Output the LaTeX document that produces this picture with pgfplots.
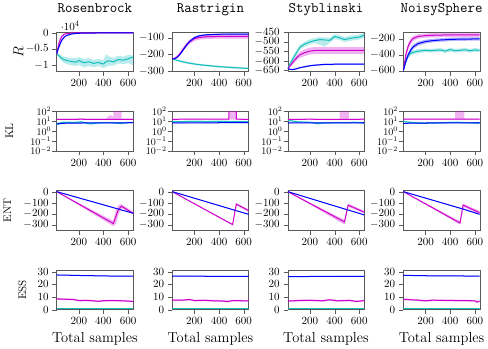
\documentclass[11pt,border=0pt]{standalone}
\usepackage{fontspec}
\usepackage{pgfplots}
\pgfplotsset{compat=1.18}
\usepackage{pgfplotstable}
\usepgfplotslibrary{groupplots,fillbetween}

\definecolor{cmag}{RGB}{205,0,205}
\definecolor{cblu}{RGB}{0,0,255}
\definecolor{ccya}{RGB}{20,190,190}

% mean line with shaded band: table, mean, low, high, colour
\newcommand{\band}[5]{%
  \addplot[draw=none, name path=U, forget plot] table[x=x,y=#4]{#1};
  \addplot[draw=none, name path=L, forget plot] table[x=x,y=#3]{#1};
  \addplot[fill=#5, fill opacity=0.3, draw=none, forget plot] fill between[of=U and L];
  \addplot[#5, line width=1pt] table[x=x,y=#2]{#1};
}

% ---------- R ----------
\pgfplotstableread{
x m ml mh b bl bh c cl ch
20 -6500 -6600 -6400 -6500 -6600 -6400 -6500 -6600 -6400
40 -3000 -3500 -2500 -4200 -4600 -3800 -7200 -7900 -6600
60 -1200 -1600 -800 -2400 -2800 -2000 -7900 -8800 -7100
80 -500 -750 -300 -1400 -1700 -1150 -8300 -9300 -7400
100 -250 -400 -130 -850 -1050 -680 -8600 -9700 -7600
140 -100 -170 -50 -400 -520 -300 -8900 -10100 -7800
180 -60 -110 -30 -220 -300 -150 -9100 -10300 -7900
200 -50 -90 -20 -170 -240 -110 -8600 -9900 -7500
240 -40 -70 -20 -120 -170 -80 -9300 -10700 -8100
280 -35 -60 -15 -100 -140 -70 -9000 -10300 -7900
320 -30 -55 -15 -85 -120 -60 -9500 -10700 -8400
360 -30 -55 -15 -75 -105 -50 -9200 -10300 -8100
400 -30 -55 -15 -70 -95 -50 -9700 -10900 -8500
420 -30 -55 -15 -68 -92 -48 -9000 -10600 -6600
440 -30 -55 -15 -65 -90 -45 -8700 -10200 -7300
480 -30 -55 -15 -60 -85 -40 -9000 -10200 -7800
520 -30 -55 -15 -60 -85 -40 -8300 -9500 -7100
560 -30 -55 -15 -55 -80 -35 -8500 -9700 -7400
600 -30 -55 -15 -55 -80 -35 -8100 -9400 -6900
640 -30 -55 -15 -55 -80 -35 -7500 -10000 -7000
}\RosR
\pgfplotstableread{
x m ml mh b bl bh c cl ch
20 -228 -231 -225 -228 -231 -225 -228 -231 -225
40 -224 -229 -219 -226 -229 -223 -232 -236 -228
60 -214 -221 -207 -218 -222 -214 -236 -241 -231
80 -198 -207 -189 -203 -208 -198 -240 -246 -234
100 -178 -189 -167 -183 -189 -177 -244 -250 -238
120 -158 -170 -146 -161 -167 -155 -247 -253 -241
140 -140 -153 -127 -141 -147 -135 -250 -256 -244
160 -125 -138 -112 -123 -129 -117 -253 -259 -247
200 -106 -119 -95 -99 -104 -94 -258 -264 -252
240 -98 -111 -87 -88 -93 -83 -262 -268 -256
300 -94 -107 -84 -82 -86 -78 -267 -273 -261
400 -92 -105 -82 -79 -83 -75 -274 -280 -268
500 -92 -105 -82 -78 -82 -74 -279 -285 -273
640 -92 -105 -82 -78 -82 -74 -285 -291 -279
}\RasR
\pgfplotstableread{
x m ml mh b bl bh c cl ch
20 -640 -642 -638 -640 -642 -638 -640 -642 -638
40 -625 -632 -618 -644 -647 -641 -612 -622 -602
60 -608 -618 -598 -645 -648 -642 -590 -602 -578
80 -592 -604 -580 -643 -646 -640 -568 -581 -555
100 -578 -592 -564 -639 -642 -636 -547 -560 -534
120 -567 -583 -551 -635 -638 -632 -527 -540 -514
160 -556 -574 -538 -630 -634 -626 -511 -524 -498
200 -548 -566 -530 -625 -629 -621 -500 -513 -487
240 -545 -563 -527 -622 -626 -618 -493 -506 -480
280 -545 -563 -527 -620 -624 -616 -488 -515 -475
320 -545 -563 -527 -618 -622 -614 -490 -525 -477
360 -545 -563 -527 -618 -622 -614 -492 -505 -479
400 -545 -563 -527 -617 -621 -613 -472 -485 -459
440 -545 -563 -527 -617 -621 -613 -478 -491 -465
480 -545 -563 -527 -617 -621 -613 -488 -501 -475
520 -545 -563 -527 -617 -621 -613 -482 -495 -469
560 -545 -563 -527 -617 -621 -613 -478 -491 -465
600 -545 -563 -527 -617 -621 -613 -475 -488 -462
640 -545 -563 -527 -617 -621 -613 -465 -478 -452
}\StyR
\pgfplotstableread{
x m ml mh b bl bh c cl ch
20 -600 -605 -595 -600 -605 -595 -600 -605 -595
40 -400 -440 -360 -480 -510 -450 -480 -520 -440
60 -290 -330 -250 -400 -430 -370 -410 -445 -375
80 -230 -265 -195 -340 -370 -310 -380 -410 -350
100 -195 -225 -165 -300 -328 -272 -370 -398 -342
140 -170 -198 -142 -260 -285 -235 -355 -380 -330
200 -160 -187 -133 -235 -258 -212 -345 -368 -322
240 -157 -184 -130 -226 -248 -204 -350 -373 -327
280 -155 -182 -128 -220 -242 -198 -345 -368 -322
320 -153 -180 -126 -215 -236 -194 -340 -363 -317
360 -152 -179 -125 -212 -233 -191 -355 -378 -332
400 -152 -179 -125 -208 -229 -187 -335 -358 -312
440 -152 -179 -125 -206 -227 -185 -350 -373 -327
480 -152 -179 -125 -205 -226 -184 -345 -368 -322
520 -152 -179 -125 -204 -225 -183 -338 -361 -315
560 -152 -179 -125 -203 -224 -182 -350 -373 -327
600 -152 -179 -125 -202 -223 -181 -340 -363 -317
640 -152 -179 -125 -202 -223 -181 -345 -368 -322
}\NoiR

% ---------- KL ----------
\pgfplotstableread{
x m ml mh b bl bh c cl ch
20 15 13 18 5.2 4.8 5.6 4.5 3.5 8
60 15 13 18 5.8 5.3 6.3 7 5.5 9
100 15 13 18 6.2 5.7 6.7 7.5 6 9.5
160 15 13 18 6.3 5.8 6.8 7 5.5 9
220 15.5 13.5 18.5 6.4 5.9 6.9 8.5 7 10.5
260 15 13 18 6.5 6 7 6 5 8
300 15 13 18 6.5 6 7 5.2 4.5 7
360 15 13 18 6.6 6.1 7.1 6.5 5.5 8.5
420 15 13 18 6.6 6.1 7.1 7 6 8.5
455 15 13 42 6.6 6.1 7.1 7 6 8.5
480 15 13 25 6.7 6.2 7.2 6.5 5.5 8
482 15 13 1000 6.7 6.2 7.2 6.5 5.5 8
545 15 13 1000 6.7 6.2 7.2 5.5 4.8 7.5
548 15 13 18 6.7 6.2 7.2 6 5 8
600 15 13 18 6.8 6.3 7.3 7 6 8.5
640 15 13 18 6.8 6.3 7.3 7 6 8.5
}\RosK
\pgfplotstableread{
x m ml mh b bl bh c cl ch
20 15 14 17 6.5 6 7 9 7.5 10.5
100 15.5 14 17 6.5 6 7 9 7.5 10.5
200 16 14.5 17.5 6.6 6.1 7.1 9.5 8 11
300 15.5 14 17 6.7 6.2 7.2 9 7.5 10.5
400 15.5 14 17 6.8 6.3 7.3 9.5 8 11
480 15.5 14 17 6.8 6.3 7.3 9 7.5 10.5
481 1000 14 1000 6.8 6.3 7.3 9 7.5 10.5
539 1000 14 1000 6.8 6.3 7.3 9 7.5 10.5
540 15.5 14 17 6.8 6.3 7.3 9 7.5 10.5
640 15 14 17 6.8 6.3 7.3 8.5 7 10
}\RasK
\pgfplotstableread{
x m ml mh b bl bh c cl ch
20 15 13.5 17 6.5 6 7 12 10 14
60 15 13.5 17 6.6 6.1 7.1 10 8.5 12
100 15 13.5 17 6.6 6.1 7.1 8.5 7 10
200 15.5 14 17.5 6.6 6.1 7.1 7.5 6.5 9
260 15 13.5 17 6.6 6.1 7.1 5.5 4.5 7
320 15 13.5 17 6.7 6.2 7.2 6.5 5.5 8
440 15 13.5 17 6.7 6.2 7.2 7 6 8.5
441 15 13.5 1000 6.7 6.2 7.2 7 6 8.5
515 15 13.5 1000 6.7 6.2 7.2 7 6 8.5
516 15 13.5 17 6.7 6.2 7.2 7 6 8.5
560 15 13.5 17 6.7 6.2 7.2 7.5 6.5 9
640 15.5 14 17.5 6.8 6.3 7.3 6.5 5.5 8
}\StyK
\pgfplotstableread{
x m ml mh b bl bh c cl ch
20 16 14.5 18 5.8 5.3 6.3 9 7.5 11
100 15.5 14 17.5 6.3 5.8 6.8 7 6 8.5
200 16 14.5 18 6.4 5.9 6.9 6 5 7.5
300 15.5 14 17.5 6.5 6 7 6.5 5.5 8
440 15.5 14 17.5 6.6 6.1 7.1 7.5 6.5 9
441 15.5 14 1000 6.6 6.1 7.1 7.5 6.5 9
515 15.5 14 1000 6.7 6.2 7.2 7 6 8.5
516 15.5 14 17.5 6.7 6.2 7.2 7 6 8.5
640 15.5 14 17.5 6.8 6.3 7.3 6 5 7.5
}\NoiK

% ---------- ENT ----------
\pgfplotstableread{
x m ml mh b bl bh
20 5 5 5 5 4 6
480 -290 -315 -265 -143 -145 -141
500 -225 -295 -160 -150 -152 -148
520 -165 -215 -120 -156 -158 -154
545 -130 -145 -110 -164 -166 -162
640 -195 -205 -180 -195 -197 -193
}\RosE
\pgfplotstableread{
x m ml mh b bl bh
20 5 5 5 5 4 6
510 -300 -305 -295 -161 -163 -159
540 -110 -120 -100 -171 -173 -169
640 -170 -185 -160 -205 -207 -203
}\RasE
\pgfplotstableread{
x m ml mh b bl bh
20 5 5 5 5 4 6
480 -275 -300 -255 -155 -157 -153
510 -120 -135 -105 -165 -167 -163
640 -185 -195 -172 -210 -212 -208
}\StyE
\pgfplotstableread{
x m ml mh b bl bh
20 5 5 5 5 4 6
480 -285 -300 -268 -148 -150 -146
505 -120 -135 -105 -156 -158 -154
640 -190 -205 -175 -205 -207 -203
}\NoiE

% ---------- ESS ----------
\pgfplotstableread{
x m ml mh b bl bh c cl ch
20 8.5 7.8 9.2 27.5 27.2 27.8 1 0.8 1.2
80 8.3 7.6 9.0 27.4 27.1 27.7 1 0.8 1.2
160 8.0 7.3 8.7 27.2 26.9 27.5 1 0.8 1.2
200 7.2 6.5 7.9 27.1 26.8 27.4 1 0.8 1.2
260 7.3 6.6 8.0 27.0 26.7 27.3 1 0.8 1.2
320 7.0 6.3 7.7 26.9 26.6 27.2 1 0.8 1.2
360 6.6 5.9 7.3 26.8 26.5 27.1 1 0.8 1.2
400 7.1 6.4 7.8 26.8 26.5 27.1 1 0.8 1.2
480 7.2 6.5 7.9 26.6 26.3 26.9 1 0.8 1.2
560 7.0 6.3 7.7 26.6 26.3 26.9 1 0.8 1.2
640 6.5 5.8 7.2 26.5 26.2 26.8 1 0.8 1.2
}\RosS
\pgfplotstableread{
x m ml mh b bl bh c cl ch
20 7.5 6.8 8.2 26.6 26.3 26.9 1 0.8 1.2
100 7.5 6.8 8.2 26.6 26.3 26.9 1 0.8 1.2
160 8.0 7.3 8.7 26.6 26.3 26.9 1 0.8 1.2
200 7.2 6.5 7.9 26.5 26.2 26.8 1 0.8 1.2
280 7.4 6.7 8.1 26.5 26.2 26.8 1 0.8 1.2
360 7.0 6.3 7.7 26.4 26.1 26.7 1 0.8 1.2
440 6.8 6.1 7.5 26.4 26.1 26.7 1 0.8 1.2
460 6.4 5.7 7.1 26.4 26.1 26.7 1 0.8 1.2
520 7.2 6.5 7.9 26.3 26.0 26.6 1 0.8 1.2
600 7.0 6.3 7.7 26.3 26.0 26.6 1 0.8 1.2
640 7.0 6.3 7.7 26.3 26.0 26.6 1 0.8 1.2
}\RasS
\pgfplotstableread{
x m ml mh b bl bh c cl ch
20 6.8 6.1 7.5 26.2 25.9 26.5 1 0.8 1.2
100 7.2 6.5 7.9 26.2 25.9 26.5 1 0.8 1.2
200 7.4 6.7 8.1 26.3 26.0 26.6 1 0.8 1.2
300 7.0 6.3 7.7 26.3 26.0 26.6 1 0.8 1.2
360 7.8 7.1 8.5 26.3 26.0 26.6 1 0.8 1.2
420 7.0 6.3 7.7 26.4 26.1 26.7 1 0.8 1.2
520 7.3 6.6 8.0 26.4 26.1 26.7 1 0.8 1.2
580 6.5 5.8 7.2 26.4 26.1 26.7 1 0.8 1.2
640 7.2 6.5 7.9 26.4 26.1 26.7 1 0.8 1.2
}\StyS
\pgfplotstableread{
x m ml mh b bl bh c cl ch
20 8.2 7.5 8.9 27.2 26.9 27.5 1 0.8 1.2
140 7.5 6.8 8.2 27.0 26.7 27.3 1 0.8 1.2
200 7.0 6.3 7.7 26.9 26.6 27.2 1 0.8 1.2
260 7.5 6.8 8.2 26.8 26.5 27.1 1 0.8 1.2
360 7.3 6.6 8.0 26.7 26.4 27.0 1 0.8 1.2
500 7.2 6.5 7.9 26.7 26.4 27.0 1 0.8 1.2
600 7.0 6.3 7.7 26.6 26.3 26.9 1 0.8 1.2
620 6.0 5.3 6.7 26.6 26.3 26.9 1 0.8 1.2
640 6.8 6.1 7.5 26.6 26.3 26.9 1 0.8 1.2
}\NoiS

\begin{document}
\begin{tikzpicture}
\begin{groupplot}[
  group style={group size=4 by 4, horizontal sep=39pt, vertical sep=39.5pt},
  scale only axis, width=76pt, height=39.5pt,
  xmin=20, xmax=640, xtick={200,400,600},
  tick align=outside, tick pos=left,
  axis line style={black!65}, major tick style={black!65},
  yminorticks=false,
  title style={font=\Large\ttfamily, at={(0.5,1)}, anchor=base, yshift=13pt},
  xlabel style={font=\Large},
  every y tick scale label/.style={at={(rel axis cs:0,1)}, anchor=south west, inner sep=1pt, xshift=3pt},
]
% row 1: R
\nextgroupplot[title={Rosenbrock}, ymin=-12000, ymax=300, ytick={-10000,-5000,0},
  ylabel={\Large$R$}, ylabel style={at={(rel axis cs:-0.5,0.5)}, anchor=center}]
\band{\RosR}{c}{cl}{ch}{ccya}
\band{\RosR}{m}{ml}{mh}{cmag}
\band{\RosR}{b}{bl}{bh}{cblu}
\nextgroupplot[title={Rastrigin}, ymin=-303, ymax=-64, ytick={-300,-200,-100}]
\band{\RasR}{c}{cl}{ch}{ccya}
\band{\RasR}{m}{ml}{mh}{cmag}
\band{\RasR}{b}{bl}{bh}{cblu}
\nextgroupplot[title={Styblinski}, ymin=-655, ymax=-447, ytick={-650,-600,-550,-500,-450}]
\band{\StyR}{c}{cl}{ch}{ccya}
\band{\StyR}{m}{ml}{mh}{cmag}
\band{\StyR}{b}{bl}{bh}{cblu}
\nextgroupplot[title={NoisySphere}, ymin=-610, ymax=-112, ytick={-600,-400,-200}]
\band{\NoiR}{c}{cl}{ch}{ccya}
\band{\NoiR}{m}{ml}{mh}{cmag}
\band{\NoiR}{b}{bl}{bh}{cblu}
% row 2: KL
\nextgroupplot[ymode=log, ymin=1e-2, ymax=1e2, ytick={1e-2,1e-1,1e0,1e1,1e2},
  yticklabel style={font=\small, inner sep=1pt},
  ylabel={KL}, ylabel style={at={(rel axis cs:-0.62,0.5)}, anchor=center}]
\band{\RosK}{c}{cl}{ch}{ccya}
\band{\RosK}{m}{ml}{mh}{cmag}
\band{\RosK}{b}{bl}{bh}{cblu}
\nextgroupplot[ymode=log, ymin=1e-2, ymax=1e2, ytick={1e-2,1e-1,1e0,1e1,1e2},
  yticklabel style={font=\small, inner sep=1pt}]
\band{\RasK}{c}{cl}{ch}{ccya}
\band{\RasK}{m}{ml}{mh}{cmag}
\band{\RasK}{b}{bl}{bh}{cblu}
\nextgroupplot[ymode=log, ymin=1e-2, ymax=1e2, ytick={1e-2,1e-1,1e0,1e1,1e2},
  yticklabel style={font=\small, inner sep=1pt}]
\band{\StyK}{c}{cl}{ch}{ccya}
\band{\StyK}{m}{ml}{mh}{cmag}
\band{\StyK}{b}{bl}{bh}{cblu}
\nextgroupplot[ymode=log, ymin=1e-2, ymax=1e2, ytick={1e-2,1e-1,1e0,1e1,1e2},
  yticklabel style={font=\small, inner sep=1pt}]
\band{\NoiK}{c}{cl}{ch}{ccya}
\band{\NoiK}{m}{ml}{mh}{cmag}
\band{\NoiK}{b}{bl}{bh}{cblu}
% row 3: ENT
\nextgroupplot[ymin=-352, ymax=15, ytick={-300,-200,-100,0},
  ylabel={ENT}, ylabel style={at={(rel axis cs:-0.645,0.5)}, anchor=center}]
\band{\RosE}{m}{ml}{mh}{cmag}
\band{\RosE}{b}{bl}{bh}{cblu}
\nextgroupplot[ymin=-352, ymax=15, ytick={-300,-200,-100,0}]
\band{\RasE}{m}{ml}{mh}{cmag}
\band{\RasE}{b}{bl}{bh}{cblu}
\nextgroupplot[ymin=-352, ymax=15, ytick={-300,-200,-100,0}]
\band{\StyE}{m}{ml}{mh}{cmag}
\band{\StyE}{b}{bl}{bh}{cblu}
\nextgroupplot[ymin=-352, ymax=15, ytick={-300,-200,-100,0}]
\band{\NoiE}{m}{ml}{mh}{cmag}
\band{\NoiE}{b}{bl}{bh}{cblu}
% row 4: ESS
\nextgroupplot[ymin=0, ymax=31.5, ytick={0,10,20,30}, xlabel={Total samples},
  ylabel={ESS}, ylabel style={at={(rel axis cs:-0.45,0.5)}, anchor=center}]
\band{\RosS}{c}{cl}{ch}{ccya}
\band{\RosS}{m}{ml}{mh}{cmag}
\band{\RosS}{b}{bl}{bh}{cblu}
\nextgroupplot[ymin=0, ymax=31.5, ytick={0,10,20,30}, xlabel={Total samples}]
\band{\RasS}{c}{cl}{ch}{ccya}
\band{\RasS}{m}{ml}{mh}{cmag}
\band{\RasS}{b}{bl}{bh}{cblu}
\nextgroupplot[ymin=0, ymax=31.5, ytick={0,10,20,30}, xlabel={Total samples}]
\band{\StyS}{c}{cl}{ch}{ccya}
\band{\StyS}{m}{ml}{mh}{cmag}
\band{\StyS}{b}{bl}{bh}{cblu}
\nextgroupplot[ymin=0, ymax=31.5, ytick={0,10,20,30}, xlabel={Total samples}]
\band{\NoiS}{c}{cl}{ch}{ccya}
\band{\NoiS}{m}{ml}{mh}{cmag}
\band{\NoiS}{b}{bl}{bh}{cblu}
\end{groupplot}
\end{tikzpicture}
\end{document}
